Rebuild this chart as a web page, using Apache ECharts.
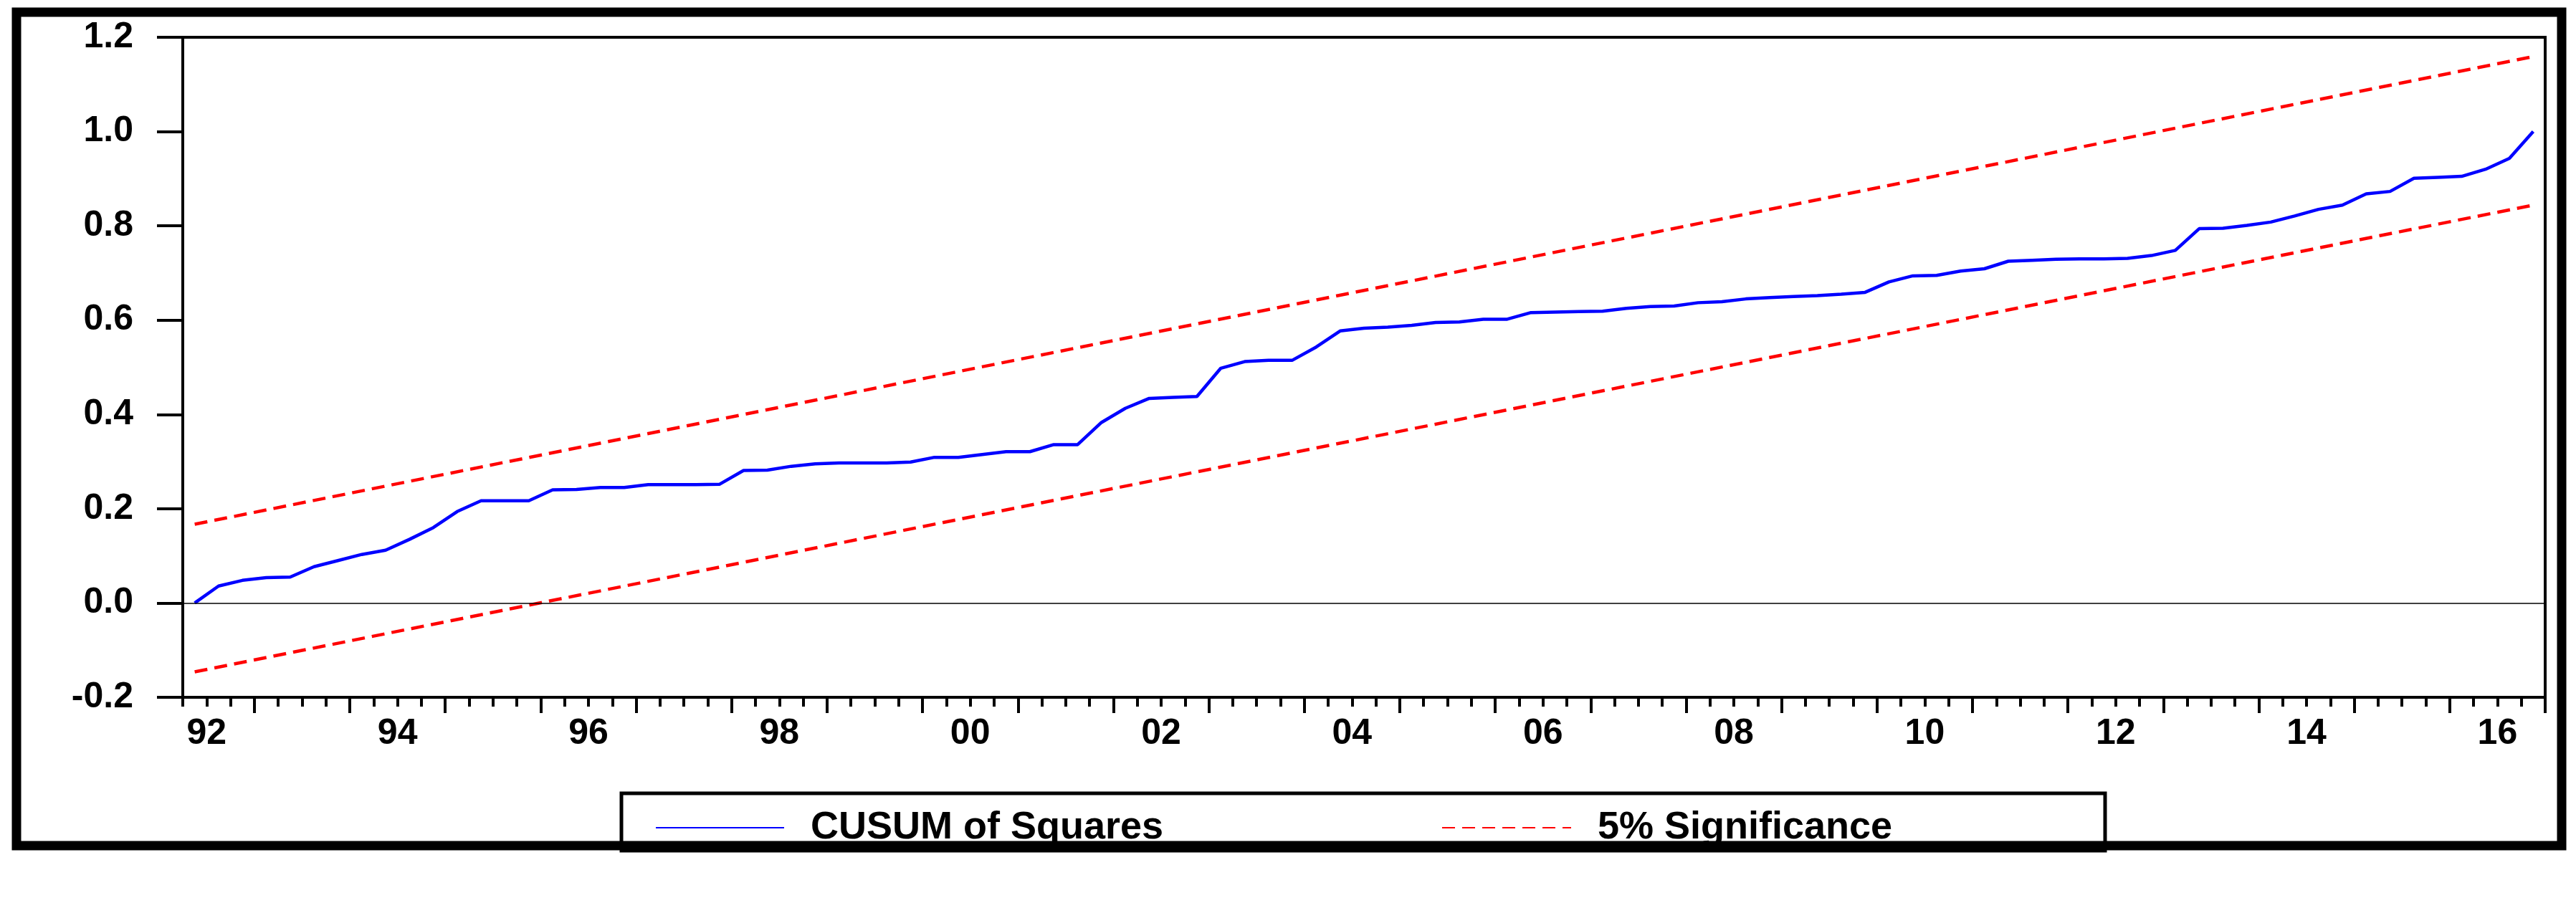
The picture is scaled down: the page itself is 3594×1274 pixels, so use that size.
<!DOCTYPE html>
<html><head><meta charset="utf-8">
<script src="https://cdn.jsdelivr.net/npm/echarts@6/dist/echarts.min.js"></script>
<style>html,body{margin:0;padding:0;background:#fff}#c{width:3594px;height:1274px}</style>
</head><body><div id="c"></div>
<script>
const startYear = 1992, startQuarter = 2;
const cusumSq = [0,0.036,0.048,0.054,0.055,0.077,0.090,0.103,0.112,0.135,0.160,0.194,0.217,0.217,0.217,0.240,0.241,0.245,0.245,0.251,0.251,0.251,0.252,0.281,0.282,0.290,0.295,0.297,
0.297,0.297,0.299,0.309,0.309,0.315,0.321,0.321,0.336,0.336,0.383,0.413,0.434,0.436,0.438,0.498,0.512,0.515,0.515,0.543,0.577,0.583,0.585,0.589,0.595,0.596,0.602,0.602,0.616,0.617,0.618,0.619,0.625,0.629,0.630,0.637,
0.639,0.645,0.648,0.650,0.652,0.655,0.659,0.681,0.694,0.695,0.704,0.709,0.725,0.727,0.729,0.730,0.730,0.731,0.737,0.748,0.794,0.795,0.801,0.808,0.821,0.835,0.844,0.868,0.873,0.901,0.903,0.905,0.920,0.943,1.0];
const upperEnds = [0.167, 1.159];
const lowerEnds = [-0.146, 0.844];
const yTicks = [-0.2,0,0.2,0.4,0.6,0.8,1.0,1.2];
const xLabelYears = [92,94,96,98,0,2,4,6,8,10,12,14,16];

const xs = cusumSq.map((_, i) => startYear + (startQuarter - 1) / 4 + (i + 0.5) / 4);
const xMin = startYear + (startQuarter - 1) / 4;
const xMax = xMin + cusumSq.length / 4;
const quarterTicks = []; for (let v = xMin; v <= xMax + 1e-9; v += 0.25) quarterTicks.push(+v.toFixed(2));
const yearTicks = []; for (let y = Math.ceil(xMin); y <= xMax; y++) yearTicks.push(y);
const labelVals = xLabelYears.map(y => (y >= 90 ? 1900 + y : 2000 + y) + 0.5);
const font = 'Liberation Sans';
const ch = echarts.init(document.getElementById('c'));
ch.setOption({
  animation:false,
  backgroundColor:'#fff',
  grid:{left:255, top:52, right:43, bottom:301, show:true, borderColor:'#000', borderWidth:4},
  xAxis:[{type:'value', min:xMin, max:xMax,
    axisLine:{show:true, onZero:false, lineStyle:{color:'#000', width:4}},
    axisTick:{show:true, customValues:quarterTicks, length:13, lineStyle:{color:'#000', width:4}},
    axisLabel:{customValues:labelVals, margin:26, color:'#000', fontFamily:font, fontWeight:'bold', fontSize:50,
      formatter:v => String(Math.floor(v) % 100).padStart(2,'0')},
    splitLine:{show:false}},
   {type:'value', min:xMin, max:xMax, position:'bottom',
    axisLine:{show:false, onZero:false}, axisLabel:{show:false}, splitLine:{show:false},
    axisTick:{show:true, customValues:yearTicks, length:22, lineStyle:{color:'#000', width:4}}}],
  yAxis:{type:'value', min:yTicks[0], max:yTicks[yTicks.length-1], interval:0.2,
    axisLine:{show:true, onZero:false, lineStyle:{color:'#000', width:4}},
    axisTick:{show:true, length:36, lineStyle:{color:'#000', width:4}},
    axisLabel:{margin:69, color:'#000', fontFamily:font, fontWeight:'bold', fontSize:50, formatter:v => v.toFixed(1)},
    splitLine:{show:false}},
  legend:[{data:['CUSUM of Squares'], left:914, top:1128, padding:0, itemWidth:179, itemHeight:20, itemStyle:{opacity:0},
      textStyle:{fontFamily:font, fontWeight:'bold', fontSize:54, color:'#000', padding:[0,0,0,32]}},
    {data:['5% Significance'], left:2011, top:1128, padding:0, itemWidth:180, itemHeight:20, itemStyle:{opacity:0},
      textStyle:{fontFamily:font, fontWeight:'bold', fontSize:54, color:'#000', padding:[0,0,0,32]}}],
  graphic:[
    {type:'rect', shape:{x:23, y:17, width:3551, height:1163}, style:{fill:'none', stroke:'#000', lineWidth:13}, silent:true},
    {type:'rect', shape:{x:867, y:1107, width:2070, height:80}, style:{fill:'none', stroke:'#000', lineWidth:5}, silent:true}
  ],
  series:[
    {name:'CUSUM of Squares', type:'line', symbol:'none', data:xs.map((x,i)=>[x,cusumSq[i]]),
      lineStyle:{color:'#0000ff', width:4.5}, itemStyle:{color:'#0000ff'},
      markLine:{silent:true, symbol:'none', label:{show:false}, lineStyle:{color:'#000', width:1.5, type:'solid'}, data:[{yAxis:0}]}},
    {name:'5% Significance', type:'line', symbol:'none', data:[[xs[0],upperEnds[0]],[xs[xs.length-1],upperEnds[1]]],
      lineStyle:{color:'#ff0000', width:4.5, type:[18,10]}, itemStyle:{color:'#ff0000'}},
    {name:'5% Significance', type:'line', symbol:'none', data:[[xs[0],lowerEnds[0]],[xs[xs.length-1],lowerEnds[1]]],
      lineStyle:{color:'#ff0000', width:4.5, type:[18,10]}, itemStyle:{color:'#ff0000'}}
  ]
});
</script></body></html>
